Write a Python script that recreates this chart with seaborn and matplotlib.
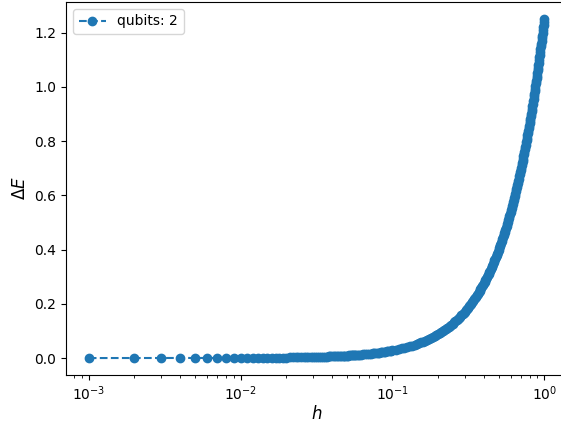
import numpy as np
import pandas as pd
import matplotlib
matplotlib.use("Agg")
import matplotlib.pyplot as plt
import seaborn as sns

# sampling grid of the field h (regular steps, denser where the log axis stretches)
h_main = np.concatenate([
    np.arange(0.001, 0.0205, 0.001),
    np.arange(0.022, 0.0605, 0.002),
    np.arange(0.064, 0.1005, 0.004),
    np.arange(0.105, 0.2005, 0.005),
    np.arange(0.21, 1.0005, 0.01),
])
# in-between samples to fill the dense band
h_extra = np.concatenate([
    np.arange(0.021, 0.0595, 0.002),
    np.arange(0.062, 0.0985, 0.004),
    np.arange(0.205, 0.9955, 0.01),
])

# energy gap
delta_e_main = [
    # 0.001 .. 0.020
    0.0000, 0.0000, 0.0001, 0.0001, 0.0002, 0.0003, 0.0003, 0.0004, 0.0005, 0.0006,
    0.0007, 0.0009, 0.0010, 0.0011, 0.0012, 0.0014, 0.0015, 0.0017, 0.0018, 0.0020,
    # 0.022 .. 0.060
    0.0023, 0.0027, 0.0030, 0.0034, 0.0038, 0.0043, 0.0047, 0.0052, 0.0057, 0.0062,
    0.0067, 0.0072, 0.0078, 0.0083, 0.0089, 0.0095, 0.0101, 0.0108, 0.0114, 0.0121,
    # 0.064 .. 0.100
    0.0134, 0.0148, 0.0163, 0.0178, 0.0194, 0.0210, 0.0227, 0.0244, 0.0262, 0.0280,
    # 0.105 .. 0.200
    0.0303, 0.0328, 0.0352, 0.0378, 0.0404, 0.0431, 0.0459, 0.0488, 0.0517, 0.0546,
    0.0577, 0.0608, 0.0639, 0.0672, 0.0705, 0.0738, 0.0772, 0.0807, 0.0842, 0.0878,
    # 0.21 .. 1.00
    0.0952, 0.1028, 0.1106, 0.1186, 0.1269, 0.1354, 0.1441, 0.1530, 0.1622, 0.1714,
    0.1810, 0.1907, 0.2006, 0.2108, 0.2212, 0.2316, 0.2423, 0.2533, 0.2644, 0.2757,
    0.2871, 0.2987, 0.3106, 0.3227, 0.3348, 0.3472, 0.3597, 0.3723, 0.3852, 0.3983,
    0.4115, 0.4249, 0.4385, 0.4523, 0.4662, 0.4802, 0.4944, 0.5088, 0.5235, 0.5382,
    0.5528, 0.5681, 0.5830, 0.5985, 0.6140, 0.6295, 0.6455, 0.6613, 0.6775, 0.6939,
    0.7104, 0.7268, 0.7435, 0.7604, 0.7776, 0.7947, 0.8120, 0.8297, 0.8470, 0.8650,
    0.8829, 0.9010, 0.9192, 0.9376, 0.9559, 0.9746, 0.9934, 1.0123, 1.0313, 1.0503,
    1.0695, 1.0894, 1.1090, 1.1285, 1.1485, 1.1688, 1.1888, 1.2090, 1.2294, 1.2500,
]
delta_e_extra = [
    # 0.021 .. 0.059
    0.0021, 0.0025, 0.0028, 0.0032, 0.0036, 0.0041, 0.0045, 0.0050, 0.0054, 0.0059,
    0.0064, 0.0070, 0.0075, 0.0081, 0.0086, 0.0092, 0.0098, 0.0104, 0.0111, 0.0117,
    # 0.062 .. 0.098
    0.0127, 0.0141, 0.0155, 0.0170, 0.0186, 0.0202, 0.0218, 0.0235, 0.0253, 0.0271,
    # 0.205 .. 0.995
    0.0915, 0.0989, 0.1067, 0.1146, 0.1228, 0.1311, 0.1397, 0.1485, 0.1575, 0.1668,
    0.1762, 0.1858, 0.1957, 0.2057, 0.2159, 0.2263, 0.2370, 0.2477, 0.2588, 0.2700,
    0.2814, 0.2928, 0.3047, 0.3165, 0.3287, 0.3409, 0.3534, 0.3660, 0.3787, 0.3917,
    0.4048, 0.4182, 0.4317, 0.4454, 0.4592, 0.4732, 0.4872, 0.5016, 0.5162, 0.5306,
    0.5457, 0.5605, 0.5756, 0.5909, 0.6063, 0.6217, 0.6375, 0.6534, 0.6695, 0.6858,
    0.7021, 0.7186, 0.7351, 0.7521, 0.7691, 0.7859, 0.8034, 0.8207, 0.8385, 0.8562,
    0.8740, 0.8921, 0.9101, 0.9284, 0.9469, 0.9654, 0.9838, 1.0028, 1.0217, 1.0409,
    1.0600, 1.0794, 1.0990, 1.1187, 1.1384, 1.1585, 1.1785, 1.1987, 1.2190, 1.2397,
]

label = "qubits: 2"

df = pd.DataFrame({
    "h": np.round(np.concatenate([h_main, h_extra]), 4),
    "dE": delta_e_main + delta_e_extra,
}).sort_values("h")

fig = plt.figure(figsize=(5.61, 4.23), dpi=100)
# axes run a little past the right edge, as in the reference crop
ax = fig.add_axes([66 / 561, 48 / 423, 501 / 561, 373 / 423])

sns.lineplot(data=df, x="h", y="dE", ax=ax, marker="o", linestyle="--",
             color="#1f77b4", markersize=6, markeredgecolor="#1f77b4",
             markeredgewidth=1.0, label=label, sort=False)

ax.set_xscale("log")
ax.set_xlabel(r"$h$", fontsize=12, labelpad=1)
ax.set_ylabel(r"$\Delta E$", fontsize=12)
ax.legend(loc="upper left")

fig.savefig("out.png", dpi=100)
